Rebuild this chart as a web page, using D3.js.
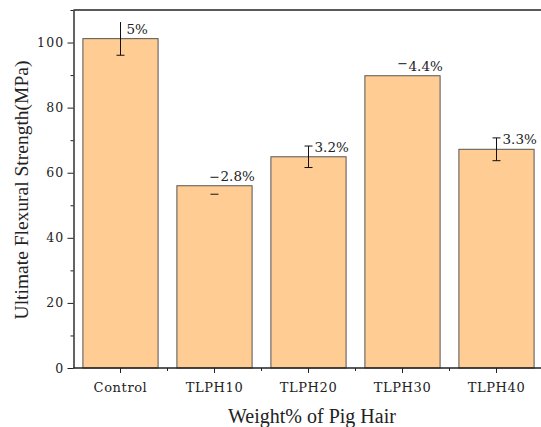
<!DOCTYPE html>
<html>
<head>
<meta charset="utf-8">
<script src="https://cdn.jsdelivr.net/npm/d3@7"></script>
<style>
  body { margin: 0; background: #fff; }
  svg { display: block; }
</style>
</head>
<body>
<svg id="chart" width="541" height="427"></svg>
<script>
// chart data
const categories = ["Control", "TLPH10", "TLPH20", "TLPH30", "TLPH40"];
const strength = [101.2, 56.0, 64.9, 89.8, 67.2];
const errors = [5.1, 2.6, 3.3, 3.7, 3.5];
const pctLabels = ["5%", "2.8%", "3.2%", "4.4%", "3.3%"];
// which parts of each error bar are visible in the original
const showStem = [true, false, true, false, true];
const showCapHi = [false, true, true, true, true];
const showCapLo = [true, true, true, false, true];
const yTicks = [0, 20, 40, 60, 80, 100];
const yMinorTicks = [10, 30, 50, 70, 90, 110];

const chartW = 541;
const plotLeft = 73.5, plotTop = 10, plotBottom = 368;
const svg = d3.select("#chart");

const xScale = d3.scaleBand()
    .domain(categories)
    .range([plotLeft, plotLeft + 470])
    .paddingInner(0.2)
    .paddingOuter(0.1);

const yScale = d3.scaleLinear()
    .domain([0, 110])
    .range([plotBottom, plotTop]);

const serif = "'DejaVu Serif', serif";
const axisColor = "#222";

// bars
svg.append("g").selectAll("rect")
    .data(categories)
    .enter().append("rect")
    .attr("x", d => xScale(d))
    .attr("y", (d, i) => yScale(strength[i]))
    .attr("width", xScale.bandwidth())
    .attr("height", (d, i) => yScale(0) - yScale(strength[i]))
    .attr("fill", "#ffcc93")
    .attr("stroke", "#555")
    .attr("stroke-width", 1);

// error bars
const capW = 4;
categories.forEach(function(d, i) {
    let cx = xScale(d) + xScale.bandwidth() / 2;
    let yHi = yScale(strength[i] + errors[i]);
    let yLo = yScale(strength[i] - errors[i]);
    let g = svg.append("g").attr("stroke", "#111").attr("stroke-width", 1);
    if (showStem[i]) {
        g.append("line").attr("x1", cx).attr("x2", cx).attr("y1", yHi).attr("y2", yLo);
    }
    if (showCapHi[i]) {
        g.append("line").attr("x1", cx - capW).attr("x2", cx + capW).attr("y1", yHi).attr("y2", yHi);
    }
    if (showCapLo[i]) {
        g.append("line").attr("x1", cx - capW).attr("x2", cx + capW).attr("y1", yLo).attr("y2", yLo);
    }
    // percentage label
    svg.append("text")
        .attr("x", cx + 6)
        .attr("y", yScale(strength[i]) - 5)
        .style("font-family", serif)
        .style("font-size", "13.5px")
        .style("fill", "#222")
        .text(pctLabels[i]);
});

// top border
svg.append("line")
    .attr("x1", plotLeft).attr("x2", chartW)
    .attr("y1", yScale(110)).attr("y2", yScale(110))
    .attr("stroke", axisColor).attr("stroke-width", 1.4);

// y axis
let yAxis = svg.append("g")
    .attr("transform", "translate(" + plotLeft + ",0)")
    .call(d3.axisLeft(yScale).tickValues(yTicks).tickSize(6).tickPadding(3).tickSizeOuter(0));
yAxis.select("path").attr("stroke", axisColor).attr("stroke-width", 1.4);
yAxis.selectAll("line").attr("stroke", axisColor);
yAxis.selectAll("text")
    .style("font-family", serif)
    .style("font-size", "12.5px")
    .style("letter-spacing", "1.2px")
    .style("fill", "#222");
svg.append("g")
    .attr("transform", "translate(" + plotLeft + ",0)")
    .call(d3.axisLeft(yScale).tickValues(yMinorTicks).tickSize(3).tickFormat(""))
    .call(g => g.select("path").remove())
    .selectAll("line").attr("stroke", axisColor);

// x axis
let xAxis = svg.append("g")
    .attr("transform", "translate(0," + plotBottom + ")")
    .call(d3.axisBottom(xScale).tickSize(5).tickPadding(10).tickSizeOuter(0));
xAxis.select("path").attr("stroke", axisColor).attr("stroke-width", 1.4)
    .attr("d", "M" + plotLeft + ",0H" + chartW);
xAxis.selectAll("line").attr("stroke", axisColor);
xAxis.selectAll("text")
    .style("font-family", serif)
    .style("font-size", "13px")
    .style("letter-spacing", "0.6px")
    .style("fill", "#222");

// minor x ticks at band edges
let step = xScale.step();
let minorX = categories.slice(0, -1).map(d => xScale(d) + xScale.bandwidth() / 2 + step / 2);
svg.append("g").selectAll("line")
    .data(minorX)
    .enter().append("line")
    .attr("x1", d => d).attr("x2", d => d)
    .attr("y1", plotBottom).attr("y2", plotBottom + 3)
    .attr("stroke", axisColor);

// axis titles
svg.append("text")
    .attr("x", 312)
    .attr("y", 423)
    .attr("text-anchor", "middle")
    .style("font-family", "'Liberation Serif', serif")
    .style("font-size", "20px")
    .style("fill", "#222")
    .text("Weight% of Pig Hair");

svg.append("text")
    .attr("transform", "translate(28,190) rotate(-90)")
    .attr("text-anchor", "middle")
    .style("font-family", "'Liberation Serif', serif")
    .style("font-size", "19.5px")
    .style("fill", "#222")
    .text("Ultimate Flexural Strength(MPa)");
</script>
</body>
</html>
